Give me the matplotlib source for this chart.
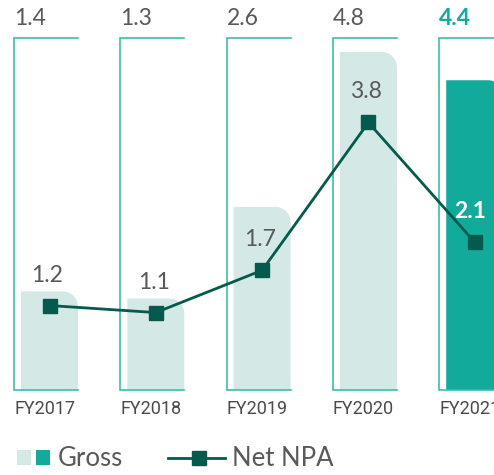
import matplotlib
matplotlib.use("Agg")
import matplotlib.pyplot as plt
from matplotlib.path import Path
from matplotlib.patches import PathPatch, Rectangle
from matplotlib.lines import Line2D

categories = ["FY2017", "FY2018", "FY2019", "FY2020", "FY2021"]
gross = [1.4, 1.3, 2.6, 4.8, 4.4]
net = [1.2, 1.1, 1.7, 3.8, 2.1]
gross_labels = ["1.4", "1.3", "2.6", "4.8", "4.4"]
net_labels = ["1.2", "1.1", "1.7", "3.8", "2.1"]
frame_top = 5.0

LIGHT = "#d4e8e5"
TEAL = "#12ab9b"
FRAME = "#3dbcaa"
DARK = "#045a4c"
GRAY = "#58595b"
FONT = "Lato"

W, H = 494, 475
fig = plt.figure(figsize=(W / 100, H / 100), dpi=100)
ax = fig.add_axes([0, 0, 1, 1])
px_x = 106.3
px_y = 70.4
x0 = 49.5
y0 = 85
ax.set_xlim(-x0 / px_x, (W - x0) / px_x)
ax.set_ylim(-y0 / px_y, (H - y0) / px_y)
ax.axis("off")

half = 28.5 / px_x
fl = -35.5 / px_x
rx, ry = 15 / px_x, 15 / px_y


def rounded_bar(xc, h, color):
    l, r = xc - half, xc + half
    k = 0.5523
    verts = [(l, 0), (l, h), (r - rx, h),
             (r - rx + k * rx, h), (r, h - ry + k * ry), (r, h - ry),
             (r, 0), (l, 0)]
    codes = [Path.MOVETO, Path.LINETO, Path.LINETO,
             Path.CURVE4, Path.CURVE4, Path.CURVE4,
             Path.LINETO, Path.CLOSEPOLY]
    ax.add_patch(PathPatch(Path(verts, codes), facecolor=color, edgecolor="none", zorder=1))


for i, (g, lab) in enumerate(zip(gross, gross_labels)):
    last = i == len(gross) - 1
    rounded_bar(i, g, TEAL if last else LIGHT)
    # open frame: bottom, left, top
    ax.plot([i + half, i + fl, i + fl, i + half], [0, 0, frame_top, frame_top],
            color=FRAME, lw=1.2, zorder=2, solid_joinstyle="miter", clip_on=False)
    ax.text(i + fl, frame_top + 0.18, lab, ha="left", va="baseline",
            fontsize=16.5, family=FONT, color=TEAL if last else GRAY,
            fontweight="bold" if last else "normal")
    ax.text(i + fl, -0.27, categories[i], ha="left", va="center",
            fontsize=13, family="Roboto", color="#4a4a4a")

xs = list(range(len(net)))
ax.plot(xs, net, color=DARK, lw=2, marker="s", markersize=10.5,
        markerfacecolor=DARK, markeredgecolor=DARK, zorder=3)
for i, (v, lab) in enumerate(zip(net, net_labels)):
    last = i == len(net) - 1
    ax.annotate(lab, (i, v), xytext=(-2 if not last else -5, 20), textcoords="offset pixels",
                ha="center", va="bottom", fontsize=16.5, family=FONT,
                color="white" if last else GRAY,
                fontweight="bold" if last else "normal", zorder=4)

# legend (figure pixel coordinates)
def fx(p):
    return p / W


def fy(p):
    return 1 - p / H


fig.patches.append(Rectangle((fx(17), fy(465)), 14 / W, 15 / H, facecolor=LIGHT,
                             edgecolor="none", transform=fig.transFigure))
fig.patches.append(Rectangle((fx(36), fy(465)), 14 / W, 15 / H, facecolor=TEAL,
                             edgecolor="none", transform=fig.transFigure))
fig.text(fx(58), fy(459), "Gross", ha="left", va="center", fontsize=18.5,
         family=FONT, color=GRAY)
fig.lines.append(Line2D([fx(168), fx(225)], [fy(458), fy(458)], color=DARK, lw=2,
                        transform=fig.transFigure))
fig.lines.append(Line2D([fx(199)], [fy(458)], color=DARK, marker="s", markersize=10.5,
                        transform=fig.transFigure))
fig.text(fx(232), fy(459), "Net NPA", ha="left", va="center", fontsize=18.5,
         family=FONT, color=GRAY)

fig.savefig("out.png", dpi=100)
